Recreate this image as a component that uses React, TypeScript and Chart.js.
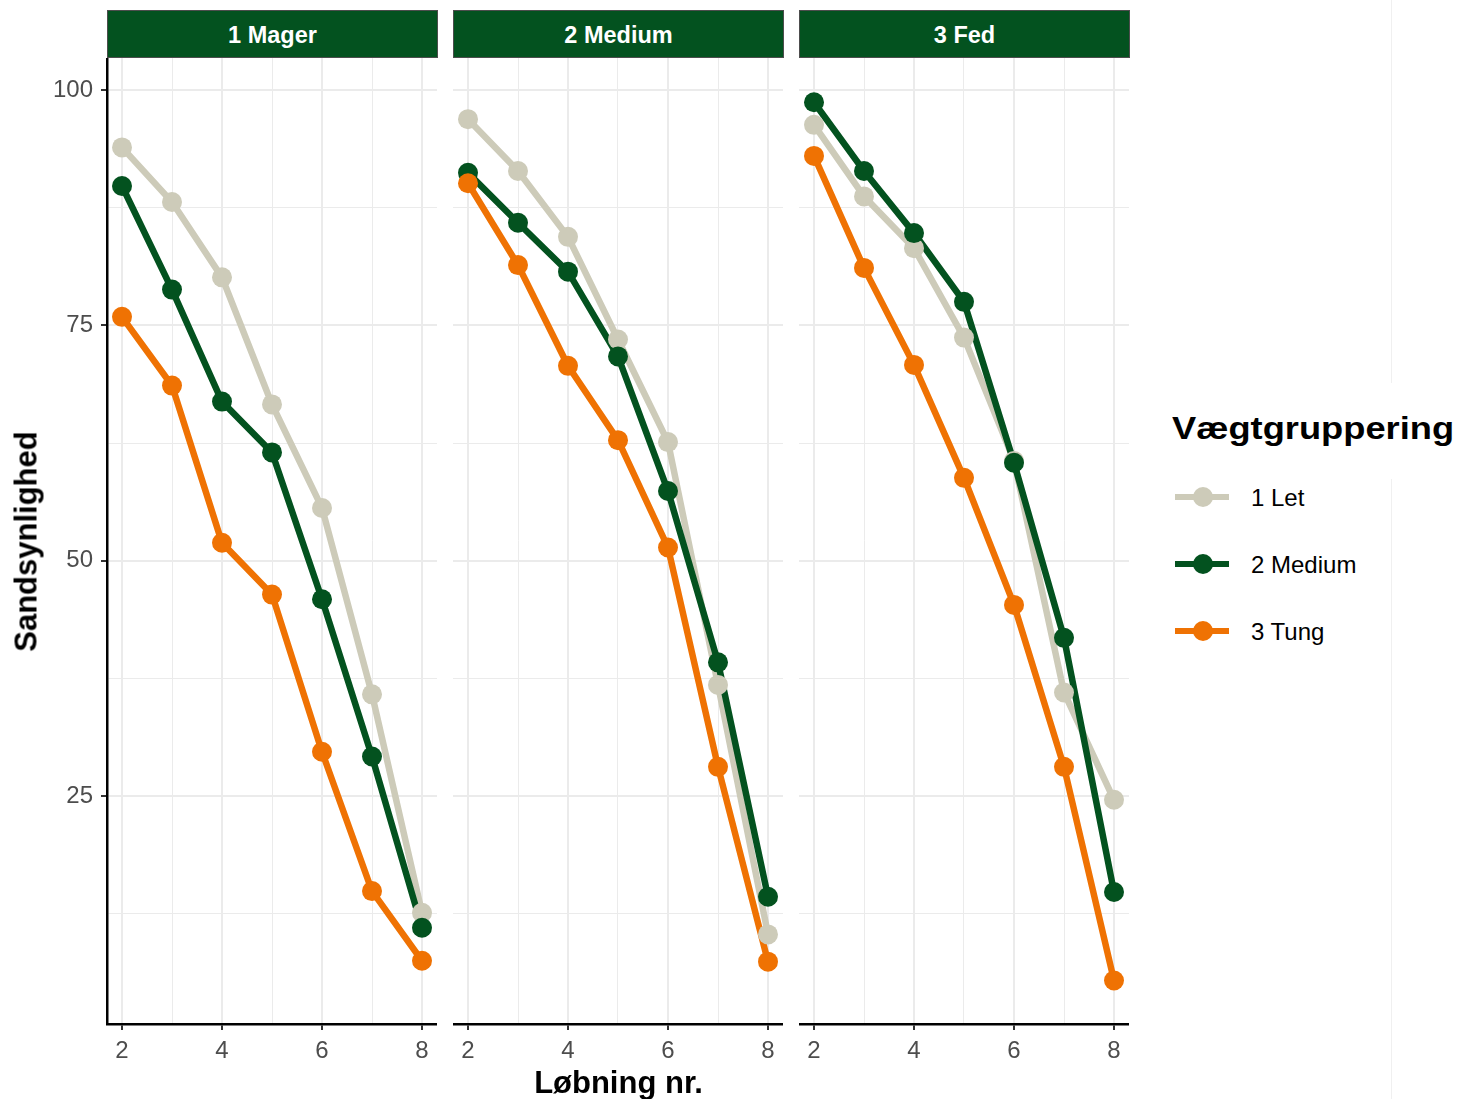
import React, { useEffect, useRef } from 'react';
import { Chart, registerables } from 'chart.js';

Chart.register(...registerables);

// ---------- data ----------
const runs = [2, 3, 4, 5, 6, 7, 8];
const panelNames = ['1 Mager', '2 Medium', '3 Fed'];
const groupNames = ['1 Let', '2 Medium', '3 Tung'];
const groupColors = ['#CDCBB9', '#03521F', '#EF7203'];

const magerLet = [93.9, 88.1, 80.1, 66.6, 55.6, 35.8, 12.6];
const magerMedium = [89.8, 78.8, 66.9, 61.5, 45.9, 29.2, 11.0];
const magerTung = [75.9, 68.6, 51.9, 46.4, 29.7, 14.9, 7.5];

const mediumLet = [96.9, 91.4, 84.4, 73.5, 62.6, 36.8, 10.3];
const mediumMedium = [91.2, 85.9, 80.7, 71.7, 57.4, 39.2, 14.3];
const mediumTung = [90.1, 81.4, 70.7, 62.8, 51.4, 28.1, 7.4];

const fedLet = [96.3, 88.7, 83.2, 73.7, 60.6, 36.0, 24.6];
const fedMedium = [98.7, 91.4, 84.8, 77.5, 60.4, 41.8, 14.8];
const fedTung = [93.0, 81.1, 70.8, 58.8, 45.3, 28.1, 5.4];

const panelSeries = [
  [magerLet, magerMedium, magerTung],
  [mediumLet, mediumMedium, mediumTung],
  [fedLet, fedMedium, fedTung],
];

const xTicks = [2, 3, 4, 5, 6, 7, 8];
const xLabelTicks = [2, 4, 6, 8];
const yTicks = [12.5, 25, 37.5, 50, 62.5, 75, 87.5, 100];
const yLabelTicks = [25, 50, 75, 100];

const xTitle = 'Løbning nr.';
const yTitle = 'Sandsynlighed';
const legendTitle = 'Vægtgruppering';

// ---------- layout ----------
const FONT = '"Liberation Sans", Arial, Helvetica, sans-serif';
const PANEL_TOP = 58;
const PANEL_H = 966;
const PANEL_W = 330;
const PANEL_LEFTS = [107, 453, 799];
const Y_AXIS_W = 107;
const X_AXIS_H = 50;
const LINE_W = 6.5;
const POINT_R = 10;

function buildConfig(panelIdx: number): any {
  const series = panelSeries[panelIdx];
  const showY = panelIdx === 0;
  const lineSets = series.map((vals, gi) => ({
    label: groupNames[gi] + ' line',
    data: runs.map((r, i) => ({ x: r, y: vals[i] })),
    borderColor: groupColors[gi],
    backgroundColor: groupColors[gi],
    borderWidth: LINE_W,
    pointRadius: 0,
    pointHoverRadius: 0,
    tension: 0,
    fill: false,
    order: 5 - gi,
    clip: false,
  }));
  const pointSets = series.map((vals, gi) => ({
    label: groupNames[gi] + ' points',
    data: runs.map((r, i) => ({ x: r, y: vals[i] })),
    borderColor: groupColors[gi],
    backgroundColor: groupColors[gi],
    borderWidth: 0,
    showLine: false,
    pointRadius: POINT_R,
    pointHoverRadius: POINT_R,
    order: 2 - gi,
    clip: false,
  }));

  return {
    type: 'line',
    data: { datasets: [...lineSets, ...pointSets] },
    options: {
      animation: false,
      responsive: false,
      maintainAspectRatio: false,
      layout: { padding: 0, autoPadding: false },
      events: [],
      plugins: { legend: { display: false }, tooltip: { enabled: false } },
      scales: {
        x: {
          type: 'linear',
          min: 1.7,
          max: 8.3,
          afterBuildTicks: (s: any) => {
            s.ticks = xTicks.map((v) => ({ value: v }));
          },
          afterFit: (s: any) => {
            s.height = X_AXIS_H;
            s.paddingLeft = 0;
            s.paddingRight = 0;
          },
          ticks: {
            autoSkip: false,
            maxRotation: 0,
            minRotation: 0,
            padding: 7,
            color: '#4D4D4D',
            font: { family: FONT, size: 24 },
            callback: (v: any) => (xLabelTicks.includes(Number(v)) ? String(v) : ''),
          },
          grid: {
            color: '#EBEBEB',
            lineWidth: (c: any) => (c.tick && xLabelTicks.includes(c.tick.value) ? 2 : 1),
            drawTicks: true,
            tickLength: 6,
            tickWidth: 2,
            tickColor: (c: any) =>
              c.tick && xLabelTicks.includes(c.tick.value) ? '#333333' : 'rgba(0,0,0,0)',
          },
          border: { display: true, color: '#000000', width: 2.5 },
        },
        y: {
          type: 'linear',
          min: 0.78,
          max: 103.4,
          afterBuildTicks: (s: any) => {
            s.ticks = yTicks.map((v) => ({ value: v }));
          },
          afterFit: (s: any) => {
            s.width = showY ? Y_AXIS_W : 0;
            s.paddingTop = 0;
            s.paddingBottom = 0;
          },
          ticks: {
            display: showY,
            autoSkip: false,
            padding: 8,
            color: '#4D4D4D',
            font: { family: FONT, size: 24 },
            callback: (v: any) => (yLabelTicks.includes(Number(v)) ? String(v) : ''),
          },
          grid: {
            color: '#EBEBEB',
            lineWidth: (c: any) => (c.tick && yLabelTicks.includes(c.tick.value) ? 2 : 1),
            drawTicks: showY,
            tickLength: 6,
            tickWidth: 2,
            tickColor: (c: any) =>
              c.tick && yLabelTicks.includes(c.tick.value) ? '#333333' : 'rgba(0,0,0,0)',
          },
          border: { display: showY, color: '#000000', width: 2.5 },
        },
      },
    },
  };
}

function Panel({ idx }: { idx: number }) {
  const ref = useRef<HTMLCanvasElement | null>(null);
  useEffect(() => {
    if (!ref.current) return;
    const chart = new Chart(ref.current, buildConfig(idx));
    return () => chart.destroy();
  }, [idx]);
  const showY = idx === 0;
  const left = PANEL_LEFTS[idx] - (showY ? Y_AXIS_W : 0);
  const w = PANEL_W + (showY ? Y_AXIS_W : 0);
  const h = PANEL_H + X_AXIS_H;
  return (
    <div style={{ position: 'absolute', left, top: PANEL_TOP, width: w, height: h }}>
      <canvas ref={ref} width={w} height={h} style={{ width: w, height: h, display: 'block' }} />
    </div>
  );
}

function Strip({ idx }: { idx: number }) {
  return (
    <div
      style={{
        position: 'absolute',
        left: PANEL_LEFTS[idx],
        top: 10,
        width: PANEL_W + 1,
        height: 48,
        boxSizing: 'border-box',
        background: '#03521F',
        border: '1px solid #4D4D4D',
      }}
    >
      <div
        style={{
          position: 'absolute',
          left: 0,
          right: 0,
          top: 12.5,
          textAlign: 'center',
          color: '#FFFFFF',
          fontFamily: FONT,
          fontWeight: 'bold',
          fontSize: 23.5,
          lineHeight: 1,
          whiteSpace: 'nowrap',
        }}
      >
        {panelNames[idx]}
      </div>
    </div>
  );
}

function LegendKey({ gi }: { gi: number }) {
  const cy = 497 + gi * 67;
  return (
    <>
      <div
        style={{
          position: 'absolute',
          left: 1175,
          top: cy - LINE_W / 2,
          width: 54,
          height: LINE_W,
          background: groupColors[gi],
        }}
      />
      <div
        style={{
          position: 'absolute',
          left: 1203 - POINT_R,
          top: cy - POINT_R,
          width: POINT_R * 2,
          height: POINT_R * 2,
          borderRadius: '50%',
          background: groupColors[gi],
        }}
      />
      <div
        style={{
          position: 'absolute',
          left: 1251,
          top: cy + 9 - 0.8465 * 24,
          fontFamily: FONT,
          fontSize: 24,
          lineHeight: 1,
          color: '#000000',
          whiteSpace: 'nowrap',
        }}
      >
        {groupNames[gi]}
      </div>
    </>
  );
}

export default function App() {
  return (
    <div
      style={{
        position: 'absolute',
        left: 0,
        top: 0,
        width: 1463,
        height: 1099,
        background: '#FFFFFF',
        overflow: 'hidden',
        fontFamily: FONT,
      }}
    >
      {[0, 1, 2].map((i) => (
        <Panel key={'p' + i} idx={i} />
      ))}
      {[0, 1, 2].map((i) => (
        <Strip key={'s' + i} idx={i} />
      ))}
      {/* y axis title */}
      <div
        style={{
          position: 'absolute',
          left: 26 - 150,
          top: 541 - 15.5,
          width: 300,
          height: 31,
          textAlign: 'center',
          fontFamily: FONT,
          fontWeight: 'bold',
          fontSize: 31,
          lineHeight: 1,
          color: '#000000',
          transform: 'rotate(-90deg)',
          whiteSpace: 'nowrap',
        }}
      >
        {yTitle}
      </div>
      {/* x axis title */}
      <div
        style={{
          position: 'absolute',
          left: 618.5 - 150,
          top: 1093 - 0.8465 * 31,
          width: 300,
          textAlign: 'center',
          fontFamily: FONT,
          fontWeight: 'bold',
          fontSize: 31,
          lineHeight: 1,
          color: '#000000',
          whiteSpace: 'nowrap',
        }}
      >
        {xTitle}
      </div>
      {/* legend */}
      <div
        style={{
          position: 'absolute',
          left: 1172,
          top: 439 - 0.8465 * 31,
          fontFamily: FONT,
          fontWeight: 'bold',
          fontSize: 31,
          lineHeight: 1,
          color: '#000000',
          whiteSpace: 'nowrap',
          transform: 'scaleX(1.17)',
          transformOrigin: 'left center',
        }}
      >
        {legendTitle}
      </div>
      {[0, 1, 2].map((gi) => (
        <LegendKey key={'l' + gi} gi={gi} />
      ))}
      {/* faint separator line at right edge */}
      <div style={{ position: 'absolute', left: 1391, top: 0, width: 1, height: 383, background: '#F0F0F0' }} />
      <div style={{ position: 'absolute', left: 1391, top: 479, width: 1, height: 620, background: '#F0F0F0' }} />
    </div>
  );
}
